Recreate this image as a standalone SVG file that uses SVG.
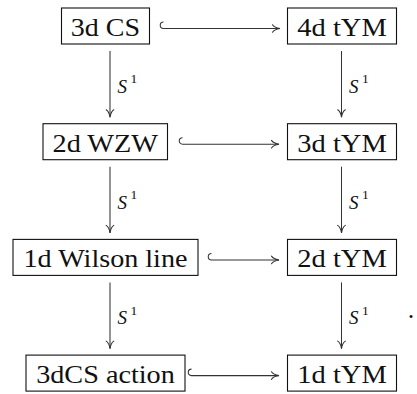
<svg xmlns="http://www.w3.org/2000/svg" width="417" height="394" viewBox="0 0 417 394">
<style>
.box{fill:#fff;stroke:#111;stroke-width:1.1}
.t,.s,.sup{font-family:"Liberation Serif","Tinos","Times New Roman","Times","Nimbus Roman","Nimbus Roman No9 L","FreeSerif","Noto Serif","DejaVu Serif","Georgia",serif;fill:#111}
.t{font-size:26px;text-anchor:middle}
.ln{fill:none;stroke:#333;stroke-width:1.05}
.s{font-style:italic;font-size:19px}
.sup{font-size:13.5px}
</style>
<defs>
<marker id="to" viewBox="-9 -5 10 10" refX="0" refY="0" markerWidth="10" markerHeight="10" markerUnits="userSpaceOnUse" orient="auto">
<path d="M -7.5 -3.8 C -6 -1.5 -2 -0.3 0 0 C -2 0.3 -6 1.5 -7.5 3.8" fill="none" stroke="#333" stroke-width="1.05" stroke-linecap="round"/>
</marker>
</defs>
<g id="n-3dCS"><rect class="box" x="61.5" y="8" width="88" height="36"/><text class="t" x="105.5" y="35.8" textLength="69.3" lengthAdjust="spacingAndGlyphs">3d CS</text></g>
<g id="n-4dtYM"><rect class="box" x="287.5" y="8" width="109" height="36"/><text class="t" x="342" y="35.8" textLength="89.5" lengthAdjust="spacingAndGlyphs">4d tYM</text></g>
<g id="n-2dWZW"><rect class="box" x="43" y="123.7" width="124.5" height="36"/><text class="t" x="105.25" y="151.5" textLength="105.5" lengthAdjust="spacingAndGlyphs">2d WZW</text></g>
<g id="n-3dtYM"><rect class="box" x="287.5" y="123.7" width="109" height="36"/><text class="t" x="342" y="151.5" textLength="89.5" lengthAdjust="spacingAndGlyphs">3d tYM</text></g>
<g id="n-1dWilson"><rect class="box" x="13" y="239.4" width="185" height="36"/><text class="t" x="105.5" y="267.2" textLength="164" lengthAdjust="spacingAndGlyphs">1d Wilson line</text></g>
<g id="n-2dtYM"><rect class="box" x="287.5" y="239.4" width="109" height="36"/><text class="t" x="342" y="267.2" textLength="89.5" lengthAdjust="spacingAndGlyphs">2d tYM</text></g>
<g id="n-3dCSaction"><rect class="box" x="26" y="355.1" width="159" height="36"/><text class="t" x="105.5" y="382.9" textLength="138.7" lengthAdjust="spacingAndGlyphs">3dCS action</text></g>
<g id="n-1dtYM"><rect class="box" x="287.5" y="355.1" width="109" height="36"/><text class="t" x="342" y="382.9" textLength="89.5" lengthAdjust="spacingAndGlyphs">1d tYM</text></g>
<g id="connectors">
<path class="ln" marker-end="url(#to)" d="M 163.5 22 A 3.2 3.2 0 0 0 163.5 28.5 L 280 28.5"/>
<path class="ln" marker-end="url(#to)" d="M 182.5 137.7 A 3.2 3.2 0 0 0 182.5 144.2 L 279 144.2"/>
<path class="ln" marker-end="url(#to)" d="M 211.5 253.4 A 3.2 3.2 0 0 0 211.5 259.9 L 279 259.9"/>
<path class="ln" marker-end="url(#to)" d="M 191.5 369.1 A 3.2 3.2 0 0 0 191.5 375.6 L 279 375.6"/>
<path class="ln" marker-end="url(#to)" d="M 110 51 L 110 117.2"/>
<path class="ln" marker-end="url(#to)" d="M 110 166.7 L 110 232.9"/>
<path class="ln" marker-end="url(#to)" d="M 110 282.4 L 110 348.6"/>
<path class="ln" marker-end="url(#to)" d="M 341.5 51 L 341.5 117.2"/>
<path class="ln" marker-end="url(#to)" d="M 341.5 166.7 L 341.5 232.9"/>
<path class="ln" marker-end="url(#to)" d="M 341.5 282.4 L 341.5 348.6"/>
<text class="s" x="117.5" y="92.8">S</text><text class="sup" x="130.5" y="83.3">1</text>
<text class="s" x="117.5" y="208.5">S</text><text class="sup" x="130.5" y="199">1</text>
<text class="s" x="117.5" y="324.2">S</text><text class="sup" x="130.5" y="314.7">1</text>
<text class="s" x="349" y="92.8">S</text><text class="sup" x="362" y="83.3">1</text>
<text class="s" x="349" y="208.5">S</text><text class="sup" x="362" y="199">1</text>
<text class="s" x="349" y="324.2">S</text><text class="sup" x="362" y="314.7">1</text>
</g>
<text class="t" x="411" y="318">.</text>
</svg>
